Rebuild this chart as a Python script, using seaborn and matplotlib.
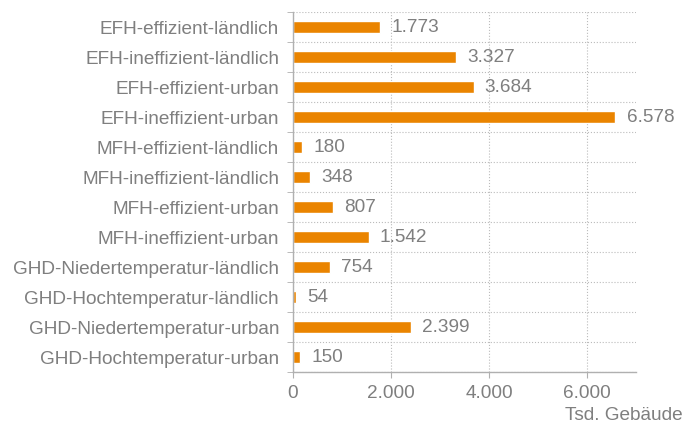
import numpy as np
import seaborn as sns
import pandas as pd
import matplotlib.pyplot as plt
from matplotlib.ticker import FixedLocator, FuncFormatter

kategorien = ['EFH-effizient-ländlich', 'EFH-ineffizient-ländlich', 'EFH-effizient-urban',
              'EFH-ineffizient-urban', 'MFH-effizient-ländlich', 'MFH-ineffizient-ländlich',
              'MFH-effizient-urban', 'MFH-ineffizient-urban', 'GHD-Niedertemperatur-ländlich',
              'GHD-Hochtemperatur-ländlich', 'GHD-Niedertemperatur-urban', 'GHD-Hochtemperatur-urban']
gebaeude = [1773, 3327, 3684, 6578, 180, 348, 807, 1542, 754, 54, 2399, 150]
x_ticks = [0, 2000, 4000, 6000]

df = pd.DataFrame({'kat': kategorien, 'wert': gebaeude})

sns.set_style('white')
plt.rcParams['font.family'] = ['Liberation Sans', 'DejaVu Sans']
grau = '#7f7f7f'
orange = '#EA8400'
fs = 13.7

fig = plt.figure(figsize=(6.84, 4.25), dpi=100)
ax = fig.add_axes([293 / 684, 1 - 372 / 425, 343 / 684, 360 / 425])

sns.barplot(data=df, x='wert', y='kat', color=orange, width=0.4, saturation=1, ax=ax)

def dt(v):
    return f'{int(v):,}'.replace(',', '.')

for i, v in enumerate(gebaeude):
    ax.text(v + 230, i, dt(v), va='center', ha='left', fontsize=fs, color=grau)

ax.set_xlim(0, 7000)
ax.set_ylim(11.5, -0.5)
ax.xaxis.set_major_locator(FixedLocator(x_ticks))
ax.xaxis.set_major_formatter(FuncFormatter(lambda v, p: dt(v)))
ax.yaxis.set_minor_locator(FixedLocator(np.arange(-0.5, 12, 1)))
ax.grid(True, axis='x', which='major', linestyle=':', color='#bbbbbb', linewidth=0.8)
ax.grid(True, axis='y', which='minor', linestyle=':', color='#bbbbbb', linewidth=0.8)
ax.set_axisbelow(True)
ax.set_xlabel('')
ax.set_ylabel('')
for s in ['top', 'right']:
    ax.spines[s].set_visible(False)
for s in ['left', 'bottom']:
    ax.spines[s].set_color('#b0b0b0')
    ax.spines[s].set_linewidth(1)
ax.tick_params(axis='y', which='major', length=0, labelsize=fs, labelcolor=grau, pad=10)
ax.tick_params(axis='y', which='minor', length=4, color='#b0b0b0', left=True)
ax.tick_params(axis='x', which='major', length=4, color='#b0b0b0', labelsize=fs, labelcolor=grau, pad=5, bottom=True)

fig.text(683 / 684, 1 - 420 / 425, 'Tsd. Gebäude', ha='right', va='baseline', fontsize=fs, color=grau)

fig.savefig('out.png', dpi=100)
